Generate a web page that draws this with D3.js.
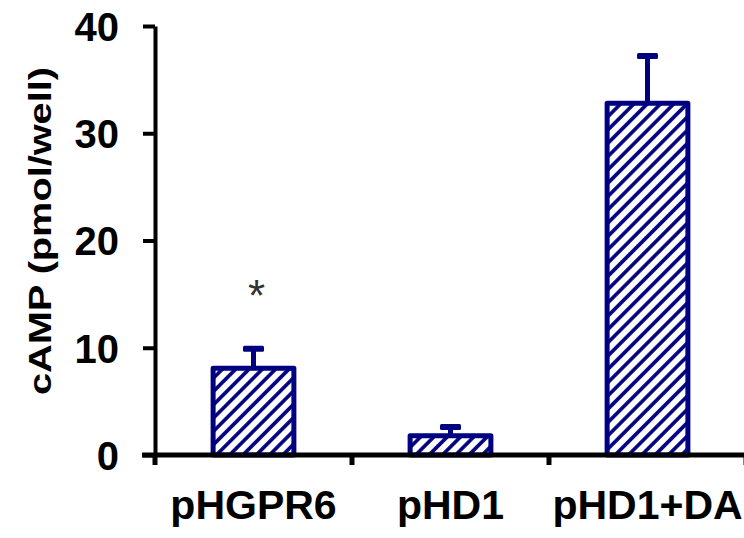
<!DOCTYPE html>
<html>
<head>
<meta charset="utf-8">
<script src="https://cdn.jsdelivr.net/npm/d3@7"></script>
<style>
  body { margin: 0; background: #fff; }
  svg { display: block; }
  text { font-family: "Liberation Sans", Arial, sans-serif; font-weight: bold; }
</style>
</head>
<body>
<div id="chart"></div>
<script>
// data
var categories = ["pHGPR6", "pHD1", "pHD1+DA"];
var values = [8.1, 1.8, 32.8];
var errors = [1.8, 0.8, 4.4];
var significant = [true, false, false];
var yTicks = [0, 10, 20, 30, 40];

var width = 744, height = 538;
var navy = "#000080";

var svg = d3.select("#chart")
  .append("svg")
  .attr("width", width)
  .attr("height", height);

// diagonal hatch
var defs = svg.append("defs");
defs.append("pattern")
  .attr("id", "hatch")
  .attr("patternUnits", "userSpaceOnUse")
  .attr("width", 9.4)
  .attr("height", 9.4)
  .attr("patternTransform", "rotate(45)")
  .append("line")
  .attr("x1", 4.7).attr("y1", 0)
  .attr("x2", 4.7).attr("y2", 9.4)
  .attr("stroke", navy)
  .attr("stroke-width", 3.6);

var x = d3.scaleBand()
  .domain(categories)
  .range([155, 746])
  .padding(0);

var y = d3.scaleLinear()
  .domain([0, 40])
  .range([455, 26]);

var barW = x.bandwidth() * 0.41;

// bars
svg.append("g")
  .selectAll("rect")
  .data(values)
  .enter().append("rect")
  .attr("x", (d, i) => x(categories[i]) + x.bandwidth() / 2 - barW / 2)
  .attr("y", d => y(d))
  .attr("width", barW)
  .attr("height", d => y(0) - y(d))
  .attr("fill", "url(#hatch)")
  .attr("stroke", navy)
  .attr("stroke-width", 5)
  .attr("stroke-linejoin", "round");

// error bars (upper only)
var err = svg.append("g");
err.selectAll("line")
  .data(values)
  .enter().append("line")
  .attr("x1", (d, i) => x(categories[i]) + x.bandwidth() / 2)
  .attr("x2", (d, i) => x(categories[i]) + x.bandwidth() / 2)
  .attr("y1", d => y(d))
  .attr("y2", (d, i) => y(d + errors[i]))
  .attr("stroke", navy)
  .attr("stroke-width", 5);
err.selectAll("rect")
  .data(values)
  .enter().append("rect")
  .attr("x", (d, i) => x(categories[i]) + x.bandwidth() / 2 - 10.5)
  .attr("y", (d, i) => y(d + errors[i]) - 3)
  .attr("width", 21)
  .attr("height", 6)
  .attr("rx", 1.5)
  .attr("fill", navy);

// significance star
svg.append("g")
  .selectAll("text")
  .data(values)
  .enter().filter((d, i) => significant[i])
  .append("text")
  .attr("x", (d, i) => x(categories[i]) + x.bandwidth() / 2 + 3)
  .attr("y", (d, i) => y(d + errors[i]) - 38)
  .attr("text-anchor", "middle")
  .style("font-weight", "normal")
  .style("font-size", "44px")
  .attr("fill", "#333")
  .text("*");

// y axis
var yAxis = svg.append("g")
  .attr("transform", "translate(155,0)")
  .call(d3.axisLeft(y).tickValues(yTicks).tickSize(12).tickSizeOuter(0).tickPadding(24));
yAxis.select(".domain").attr("stroke", "#000").attr("stroke-width", 4);
yAxis.selectAll(".tick line").attr("stroke", "#000").attr("stroke-width", 4);
yAxis.selectAll(".tick text")
  .attr("fill", "#000")
  .style("font-size", "40px")
  .attr("dy", "0.36em");

// x axis: line with ticks at category boundaries
var xAxis = svg.append("g")
  .attr("transform", "translate(0,455)")
  .call(d3.axisBottom(x).tickSize(0).tickSizeOuter(0).tickPadding(35));
xAxis.select(".domain")
  .attr("d", "M142,0H" + (width + 4))
  .attr("stroke", "#000").attr("stroke-width", 5);
xAxis.selectAll(".tick text")
  .attr("fill", "#000")
  .style("font-size", "41px")
  .attr("dy", "0.71em");
xAxis.append("g")
  .selectAll("line")
  .data(categories.concat(["end"]))
  .enter().append("line")
  .attr("x1", (d, i) => i < categories.length ? x(d) : x.range()[1])
  .attr("x2", (d, i) => i < categories.length ? x(d) : x.range()[1])
  .attr("y1", 0)
  .attr("y2", 10)
  .attr("stroke", "#000")
  .attr("stroke-width", 5);

// y label
svg.append("text")
  .attr("transform", "translate(51,231) rotate(-90)")
  .attr("text-anchor", "middle")
  .attr("textLength", 328)
  .attr("lengthAdjust", "spacingAndGlyphs")
  .style("font-size", "31px")
  .attr("fill", "#000")
  .text("cAMP (pmol/well)");
</script>
</body>
</html>
